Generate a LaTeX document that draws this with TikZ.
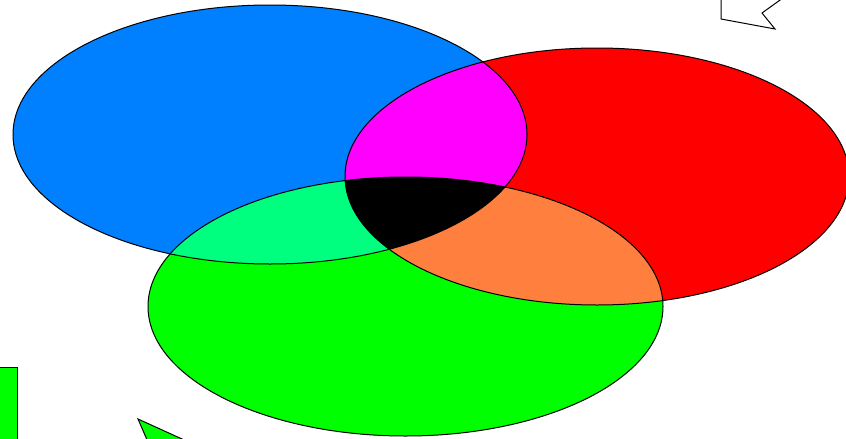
\documentclass[tikz,border=0pt]{standalone}
\usepackage{tikz}
\definecolor{SetBlue}{HTML}{007FFF}
\definecolor{SetRed}{HTML}{FF0000}
\definecolor{SetGreen}{HTML}{00FF00}
\definecolor{BlueRed}{HTML}{FF00FF}
\definecolor{BlueGreen}{HTML}{00FF7F}
\definecolor{RedGreen}{HTML}{FF7F3F}

% the three sets, in pixel units (y down)
\def\blueset{(270,134.5) ellipse [x radius=257pt, y radius=129.5pt]}
\def\redset{(597,176.5) ellipse [x radius=252pt, y radius=128.5pt]}
\def\greenset{(405.5,306.5) ellipse [x radius=257.5pt, y radius=129.5pt]}

\begin{document}
\begin{tikzpicture}[x=1pt,y=-1pt,line join=miter,
    outline/.style={draw=black,line width=1pt}]
  \fill[white] (0,0) rectangle (846,439);
  \useasboundingbox (0,0) rectangle (846,439);
  \clip (0,0) rectangle (846,439);

  \fill[SetBlue] \blueset;
  \fill[SetRed] \redset;
  \fill[SetGreen] \greenset;
  \begin{scope}
    \clip \blueset;
    \fill[BlueRed] \redset;
    \fill[BlueGreen] \greenset;
  \end{scope}
  \begin{scope}
    \clip \redset;
    \fill[RedGreen] \greenset;
  \end{scope}
  \begin{scope}
    \clip \blueset;
    \clip \redset;
    \fill[black] \greenset;
  \end{scope}
  \draw[outline] \blueset;
  \draw[outline] \redset;
  \draw[outline] \greenset;

  % shapes cut by the border
  \draw[outline] (721,-5) -- (721,19) -- (775,29) -- (762,13) -- (794,-10);
  \filldraw[outline,fill=SetGreen] (-10,367) rectangle (17,450);
  \filldraw[outline,fill=SetGreen] (151,449) -- (138,419) -- (204,449);
\end{tikzpicture}
\end{document}
